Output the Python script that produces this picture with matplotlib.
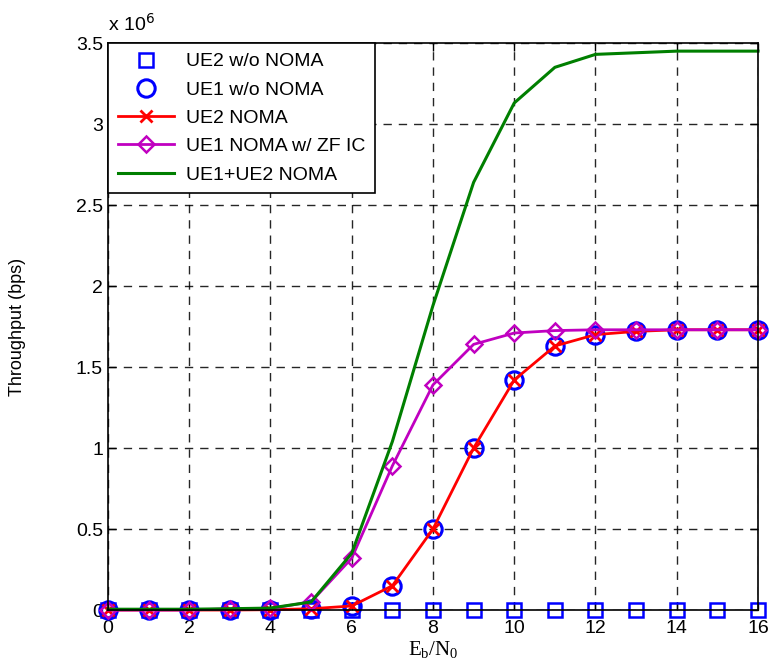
import matplotlib
matplotlib.use("Agg")
import matplotlib.pyplot as plt

plt.rcParams['font.family'] = ['Liberation Sans', 'DejaVu Sans']

ebn0 = list(range(0, 17))
ue2_wo_noma = [0] * 17
ue1_wo_noma = [0, 0, 0, 0, 0.002, 0.008, 0.025, 0.15, 0.50, 1.00, 1.42, 1.63, 1.70, 1.72, 1.73, 1.73, 1.73]
ue2_noma = [0, 0, 0, 0, 0.002, 0.008, 0.025, 0.15, 0.50, 1.00, 1.42, 1.63, 1.70, 1.72, 1.73, 1.73, 1.73]
ue1_noma_zf = [0, 0, 0, 0.008, 0.01, 0.05, 0.32, 0.89, 1.39, 1.64, 1.71, 1.725, 1.73, 1.73, 1.73, 1.73, 1.73]
ue_sum_noma = [0.005, 0.005, 0.005, 0.008, 0.012, 0.05, 0.35, 1.04, 1.88, 2.64, 3.13, 3.35, 3.43, 3.44, 3.45, 3.45, 3.45]

scale = 1e6

fig = plt.figure(figsize=(7.69, 6.62), dpi=100)
ax = fig.add_axes([0.1404, 0.0785, 0.8453, 0.8565])

ax.plot(ebn0, [v * scale for v in ue2_wo_noma], linestyle='none', marker='s', markersize=10,
        markerfacecolor='none', markeredgecolor='blue', markeredgewidth=1.8, label='UE2 w/o NOMA',
        clip_on=False, zorder=3)
ax.plot(ebn0, [v * scale for v in ue1_wo_noma], linestyle='none', marker='o', markersize=12.5,
        markerfacecolor='none', markeredgecolor='blue', markeredgewidth=2.2, label='UE1 w/o NOMA',
        clip_on=False, zorder=3)
ax.plot(ebn0, [v * scale for v in ue2_noma], color='red', linewidth=2, marker='x', markersize=9,
        markeredgewidth=2, label='UE2 NOMA', clip_on=False, zorder=3)
ax.plot(ebn0, [v * scale for v in ue1_noma_zf], color='#c000c0', linewidth=2, marker='D', markersize=8.5,
        markerfacecolor='none', markeredgewidth=1.8, label='UE1 NOMA w/ ZF IC', clip_on=False, zorder=3)
ax.plot(ebn0, [v * scale for v in ue_sum_noma], color='#007f00', linewidth=2.2, label='UE1+UE2 NOMA',
        clip_on=False, zorder=3)

ax.set_xlim(0, 16)
ax.set_ylim(0, 3.5e6)
ax.set_xticks(range(0, 17, 2))
ax.set_yticks([i * 0.5e6 for i in range(8)])
ax.set_yticklabels(['0', '0.5', '1', '1.5', '2', '2.5', '3', '3.5'])
ax.tick_params(direction='in', top=True, right=True, labelsize=14, length=6, width=1)
ax.tick_params(axis='x', pad=7)
for s in ax.spines.values():
    s.set_linewidth(1.2)
    s.set_zorder(4)

ax.grid(True, color='black', linestyle=(0, (6, 5)), linewidth=1.0, alpha=0.85)

ax.text(0.0, 1.014, r'x 10$^{6}$', transform=ax.transAxes, fontsize=14, ha='left', va='bottom')

ax.set_ylabel('Throughput (bps)', fontsize=13, labelpad=36)
ax.set_xlabel(r'E$_\mathregular{b}$/N$_\mathregular{0}$', fontsize=15, family='Liberation Serif', labelpad=2)

leg = ax.legend(loc='upper left', fontsize=14, fancybox=False, edgecolor='black', framealpha=1,
                borderaxespad=0, handlelength=2.9, labelspacing=0.55, borderpad=0.5, handletextpad=0.6)
leg.get_frame().set_linewidth(1.2)
leg.set_zorder(5)

fig.savefig('out.png', dpi=100)
